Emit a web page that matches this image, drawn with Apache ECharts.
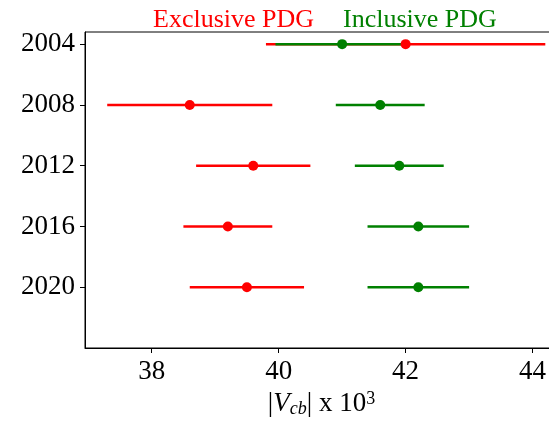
<!DOCTYPE html>
<html>
<head>
<meta charset="utf-8">
<title>Vcb PDG</title>
<script src="https://cdn.jsdelivr.net/npm/echarts@6/dist/echarts.min.js"></script>
<style>
  html, body { margin: 0; padding: 0; background: #fff; }
  #chart { width: 549px; height: 424px; }
</style>
</head>
<body>
<div id="chart"></div>
<script>
// values (|Vcb| x 10^3)
const years = [2004, 2008, 2012, 2016, 2020]
const exclVal = [42.0, 38.6, 39.6, 39.2, 39.5]
const exclErr = [2.2, 1.3, 0.9, 0.7, 0.9]
const inclVal = [41.0, 41.6, 41.9, 42.2, 42.2]
const inclErr = [1.05, 0.7, 0.7, 0.8, 0.8]
const xTicks = [38, 40, 42, 44]

const RED = '#ff0000'
const GREEN = '#008000'
const FONT = 'Liberation Serif'

function barData(vals, errs) {
  return years.map((y, i) => [vals[i] - errs[i], vals[i] + errs[i], y])
}
function pointData(vals) {
  return years.map((y, i) => [vals[i], y])
}
function errorBars(data, color, z) {
  return {
    type: 'custom',
    data: data,
    z: z,
    silent: true,
    encode: { x: [0, 1], y: 2 },
    renderItem(params, api) {
      const p1 = api.coord([api.value(0), api.value(2)])
      const p2 = api.coord([api.value(1), api.value(2)])
      return {
        type: 'line',
        shape: { x1: p1[0], y1: p1[1], x2: p2[0], y2: p2[1] },
        style: { stroke: color, lineWidth: 2.5 }
      }
    }
  }
}

const chart = echarts.init(document.getElementById('chart'))
chart.setOption({
  backgroundColor: '#fff',
  animation: false,
  textStyle: { fontFamily: FONT },
  legend: {
    left: 143,
    top: 2,
    itemWidth: 0,
    itemHeight: 0,
    itemGap: 24,
    selectedMode: false,
    textStyle: { fontSize: 26, fontFamily: FONT },
    data: [
      { name: 'Exclusive PDG', icon: 'none', textStyle: { color: RED } },
      { name: 'Inclusive PDG', icon: 'none', textStyle: { color: GREEN } }
    ]
  },
  grid: {
    left: 85,
    top: 32,
    right: -9,
    bottom: 76,
    containLabel: false,
    outerBoundsMode: 'none',
    show: true,
    borderColor: '#000',
    borderWidth: 1
  },
  xAxis: {
    type: 'value',
    min: 36.95,
    max: 44.4,
    splitLine: { show: false },
    axisLine: { lineStyle: { color: '#000' } },
    axisTick: { length: 5, lineStyle: { color: '#000' }, customValues: xTicks },
    axisLabel: { fontSize: 27, color: '#000', margin: 10, customValues: xTicks },
    name: '|{i|V}{sub|cb}| x 10{sup|3}',
    nameLocation: 'middle',
    nameGap: 40,
    nameTextStyle: {
      fontSize: 27,
      color: '#000',
      fontFamily: FONT,
      rich: {
        i: { fontSize: 27, fontStyle: 'italic', fontFamily: FONT, color: '#000' },
        sub: { fontSize: 18, fontStyle: 'italic', fontFamily: FONT, color: '#000', verticalAlign: 'bottom', padding: [10, 0, 0, 0] },
        sup: { fontSize: 18, fontFamily: FONT, color: '#000', verticalAlign: 'top', padding: [0, 0, 10, 0] }
      }
    }
  },
  yAxis: {
    type: 'value',
    inverse: true,
    min: 2003.2,
    max: 2024,
    splitLine: { show: false },
    axisLine: { lineStyle: { color: '#000' } },
    axisTick: { length: 5, lineStyle: { color: '#000' }, customValues: years },
    axisLabel: {
      fontSize: 27,
      color: '#000',
      margin: 10,
      customValues: years,
      formatter: v => String(v)
    }
  },
  series: [
    errorBars(barData(exclVal, exclErr), RED, 2),
    errorBars(barData(inclVal, inclErr), GREEN, 3),
    {
      name: 'Inclusive PDG',
      type: 'scatter',
      data: pointData(inclVal),
      symbolSize: 10,
      itemStyle: { color: GREEN, opacity: 1 },
      z: 4
    },
    {
      name: 'Exclusive PDG',
      type: 'scatter',
      data: pointData(exclVal),
      symbolSize: 10,
      itemStyle: { color: RED, opacity: 1 },
      z: 5
    }
  ]
})
</script>
</body>
</html>
